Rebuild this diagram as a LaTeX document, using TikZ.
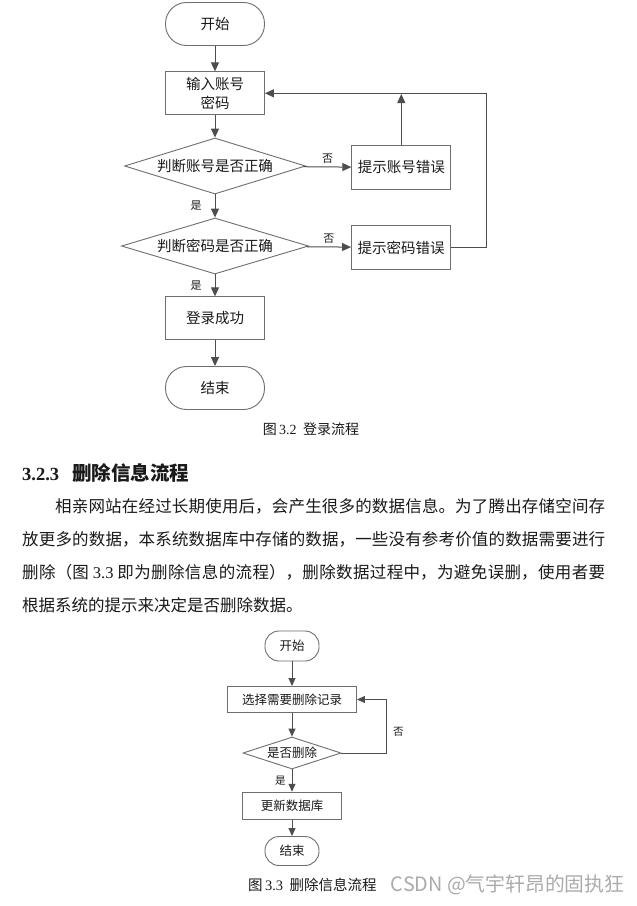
\documentclass[tikz,border=0pt]{standalone}
\usepackage{fontspec}
\setmainfont{Noto Sans CJK SC}
\newfontfamily\tnr{Liberation Serif}
\usetikzlibrary{shapes.geometric,arrows.meta}
\XeTeXlinebreaklocale "zh"
\XeTeXlinebreakskip=0pt plus 3pt

\definecolor{boxgray}{HTML}{6E6E6E}
\definecolor{linegray}{HTML}{4D4D4D}
\definecolor{markgray}{HTML}{ABABAB}
\definecolor{inkblack}{HTML}{1A1A1A}

\tikzstyle{term} = [draw=boxgray, line width=0.9pt, rectangle, rounded corners=21pt, minimum width=99pt, minimum height=43pt, text=inkblack, font=\fontsize{14.5pt}{17pt}\selectfont]
\tikzstyle{proc} = [draw=boxgray, line width=0.9pt, rectangle, minimum width=99pt, minimum height=43pt, align=center, text=inkblack, font=\fontsize{14.5pt}{19pt}\selectfont]
\tikzstyle{dec} = [draw=boxgray, line width=0.9pt, diamond, aspect=3.2, inner sep=0pt, minimum width=181pt, minimum height=56pt, text=inkblack, font=\fontsize{14.5pt}{17pt}\selectfont]
\tikzstyle{smallterm} = [term, rounded corners=14pt, minimum width=54pt, minimum height=30pt, font=\fontsize{12.5pt}{15pt}\selectfont]
\tikzstyle{smallproc} = [proc, minimum width=99pt, minimum height=27pt, font=\fontsize{12.5pt}{15pt}\selectfont]
\tikzstyle{smalldec} = [dec, aspect=3, minimum width=98pt, minimum height=32pt, font=\fontsize{12.5pt}{15pt}\selectfont]
\tikzstyle{lbl} = [inner sep=1pt, text=inkblack, font=\fontsize{11pt}{13pt}\selectfont]
\tikzstyle{smalllbl} = [lbl, font=\fontsize{10.5pt}{12pt}\selectfont]
\tikzstyle{arr} = [draw=linegray, line width=1pt, -{Triangle[length=9pt,width=8pt]}]
\tikzstyle{smallarr} = [arr, -{Triangle[length=8pt,width=7pt]}]

\begin{document}
\begin{tikzpicture}[x=1pt, y=-1pt]
\useasboundingbox (0,0) rectangle (637,906);
\fill[white] (0,0) rectangle (637,906);

\node[term] (start) at (215,24) {开始};
\node[proc] (input) at (215,93.3) {输入账号\\密码};
\node[dec] (chkacc) at (215,166) {判断账号是否正确};
\node[proc, minimum height=44pt] (erracc) at (401.3,167.5) {提示账号错误};
\node[dec, minimum width=187pt] (chkpwd) at (215,246) {判断密码是否正确};
\node[proc, minimum height=44pt] (errpwd) at (401,247.5) {提示密码错误};
\node[proc] (ok) at (215,318.3) {登录成功};
\node[term] (end) at (215,388) {结束};
\coordinate (ret) at (486.7,94);

\draw[arr] (start) -- (input);
\draw[arr] (input) -- (chkacc);
\draw[arr] (chkacc) -- node[lbl, above=2pt] {否} (erracc);
\draw[arr] (chkacc) -- node[lbl, left=12pt] {是} (chkpwd);
\draw[arr] (chkpwd) -- node[lbl, above=2pt] {否} (errpwd);
\draw[arr] (chkpwd) -- node[lbl, left=12pt] {是} (ok);
\draw[arr] (ok) -- (end);
\draw[arr] (erracc.north) -- (erracc.north |- ret);
\draw[arr] (errpwd.east) -| (ret) |- (input.east);

\node[anchor=west, inner sep=0pt, text=inkblack, font=\fontsize{14pt}{16pt}\selectfont] (cap1) at (262.7,429) {图\,{\tnr 3.2}\ \ 登录流程};

\node[anchor=west, inner sep=0pt, text=inkblack, font=\fontsize{19.5pt}{22pt}\selectfont\bfseries] (head) at (22,473) {{\fontsize{18.5pt}{22pt}\selectfont\tnr 3.2.3}\hspace{13pt}删除信息流程};

\node[anchor=north west, text width=583pt, inner sep=0pt, align=justify, text=inkblack, font=\fontsize{16.5pt}{33pt}\selectfont] (para) at (22,498.5) {\hspace*{2em}相亲网站在经过长期使用后，会产生很多的数据信息。为了腾出存储空间存\linebreak 放更多的数据，本系统数据库中存储的数据，一些没有参考价值的数据需要进行\linebreak 删除（图 {\tnr 3.3} 即为删除信息的流程），删除数据过程中，为避免误删，使用者要\linebreak 根据系统的提示来决定是否删除数据。};

\node[smallterm] (start2) at (292,646) {开始};
\node[smallproc, minimum width=129pt, minimum height=26pt] (sel) at (292,699.5) {选择需要删除记录};
\node[smalldec] (isdel) at (292,753) {是否删除};
\node[smallproc] (upd) at (292,805.7) {更新数据库};
\node[smallterm, minimum height=29pt] (end2) at (292,851) {结束};
\coordinate (loop2) at (386.7,699.5);

\draw[smallarr] (start2) -- (sel);
\draw[smallarr] (sel) -- (isdel);
\draw[smallarr] (isdel) -- node[smalllbl, left=5pt] {是} (upd);
\draw[smallarr] (upd) -- (end2);
\draw[smallarr] (isdel.east) -| node[smalllbl, right=5pt, pos=0.7] {否} (loop2) -- (sel.east);

\node[anchor=west, inner sep=0pt, text=inkblack, font=\fontsize{14.5pt}{16pt}\selectfont] (cap2) at (248,885) {图\,{\tnr 3.3}\ \ 删除信息流程};
\node[anchor=west, inner sep=0pt, text=markgray, font=\fontsize{19.8pt}{22pt}\selectfont] (mark) at (390.7,885) {CSDN @气宇轩昂的固执狂};
\end{tikzpicture}
\end{document}
